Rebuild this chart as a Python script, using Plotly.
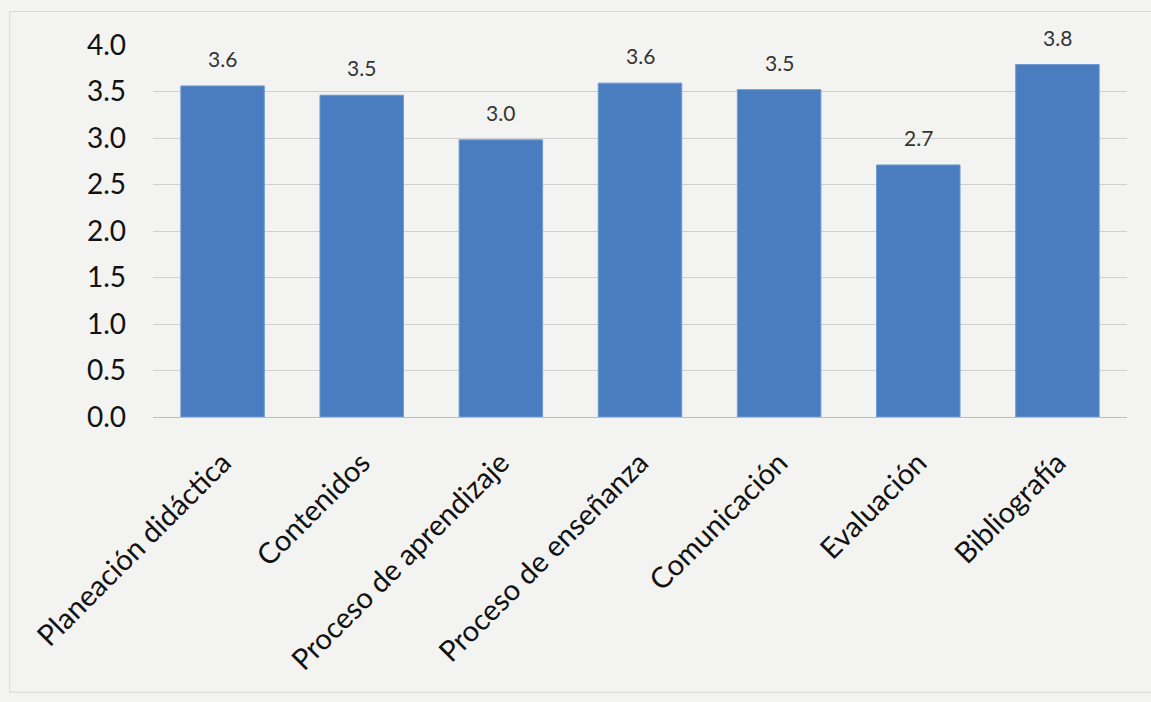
import plotly.graph_objects as go

categories = ["Planeación didáctica", "Contenidos", "Proceso de aprendizaje",
              "Proceso de enseñanza", "Comunicación", "Evaluación", "Bibliografía"]
values = [3.56, 3.46, 2.98, 3.59, 3.52, 2.71, 3.79]
y_ticks = [0.0, 0.5, 1.0, 1.5, 2.0, 2.5, 3.0, 3.5, 4.0]
y_tick_labels = ["0.0", "0.5", "1.0", "1.5", "2.0", "2.5", "3.0", "3.5", "4.0"]

FONT = "Lato, 'Open Sans', sans-serif"

fig = go.Figure(go.Bar(
    x=categories,
    y=values,
    marker=dict(color="#4A7DBF", line=dict(color="#6E9AD0", width=1)),
    width=0.6,
))

for c, v in zip(categories, values):
    fig.add_annotation(
        x=c, y=v, text=f"{v:.1f}", showarrow=False,
        yanchor="bottom", yshift=13,
        font=dict(family=FONT, size=21, color="#333333"),
    )

fig.update_layout(
    width=1151, height=702,
    margin=dict(l=153, r=24, t=45, b=285),
    paper_bgcolor="#f3f3f2",
    plot_bgcolor="rgba(0,0,0,0)",
    showlegend=False,
    font=dict(family=FONT, color="#111111"),
    xaxis=dict(
        tickangle=-45,
        tickfont=dict(family=FONT, size=29, color="#111111"),
        ticklabelstandoff=22,
        showgrid=False, showline=False, ticks="",
    ),
    yaxis=dict(
        range=[0, 4.0],
        tickvals=y_ticks,
        ticktext=y_tick_labels,
        tickfont=dict(family=FONT, size=28, color="#111111"),
        ticklabelstandoff=26,
        showgrid=True, gridcolor="#cfcfcf", gridwidth=1,
        zeroline=True, zerolinecolor="#bdbdbd", zerolinewidth=1,
        showline=False, ticks="", ticklen=0,
    ),
    shapes=[
        dict(type="rect", xref="paper", yref="paper",
             x0=-0.147, x1=1.03, y0=-0.74, y1=1.09,
             line=dict(color="#d8d8d8", width=1), fillcolor="rgba(0,0,0,0)", layer="below"),
    ],
)

fig.write_html("out.html")
